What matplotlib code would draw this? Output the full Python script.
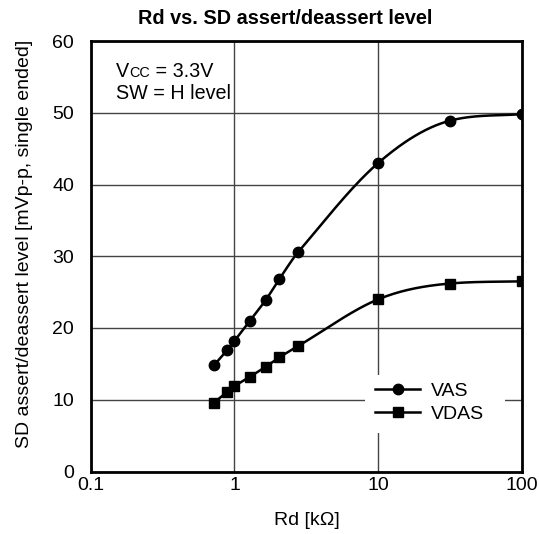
import numpy as np
import matplotlib
matplotlib.use("Agg")
import matplotlib.pyplot as plt
from matplotlib.lines import Line2D
from matplotlib.patches import Rectangle

# ---- data ----
rd_k = [0.72, 0.89, 1.0, 1.28, 1.65, 2.05, 2.78, 10.0, 31.6, 100.0]
vas = [14.8, 16.9, 18.2, 21.0, 23.9, 26.8, 30.6, 43.0, 48.9, 49.8]
vdas = [9.6, 11.1, 11.9, 13.2, 14.6, 15.9, 17.5, 24.0, 26.2, 26.5]
xticks = [0.1, 1, 10, 100]
xticklabels = ["0.1", "1", "10", "100"]
yticks = [0, 10, 20, 30, 40, 50, 60]

plt.rcParams['font.family'] = ['Liberation Sans', 'DejaVu Sans']


def smooth(x, y, n=400):
    """Cubic Hermite curve through the points in log-x space (for the line only)."""
    lx = np.log10(np.asarray(x, float))
    y = np.asarray(y, float)
    m = np.zeros_like(y)
    m[0] = (y[1] - y[0]) / (lx[1] - lx[0])
    m[-1] = (y[-1] - y[-2]) / (lx[-1] - lx[-2])
    for i in range(1, len(y) - 1):
        m[i] = (y[i + 1] - y[i - 1]) / (lx[i + 1] - lx[i - 1])
    d = np.diff(y) / np.diff(lx)
    for i in range(len(d)):
        if d[i] == 0:
            m[i] = m[i + 1] = 0
        else:
            a, b = m[i] / d[i], m[i + 1] / d[i]
            s = a * a + b * b
            if s > 9:
                t = 3 / np.sqrt(s)
                m[i], m[i + 1] = t * a * d[i], t * b * d[i]
    xs, ys = [], []
    for i in range(len(y) - 1):
        h = lx[i + 1] - lx[i]
        t = np.linspace(0, 1, n // len(y) + 2)
        h00 = 2 * t**3 - 3 * t**2 + 1
        h10 = t**3 - 2 * t**2 + t
        h01 = -2 * t**3 + 3 * t**2
        h11 = t**3 - t**2
        ys.append(h00 * y[i] + h10 * h * m[i] + h01 * y[i + 1] + h11 * h * m[i + 1])
        xs.append(lx[i] + t * h)
    return 10 ** np.concatenate(xs), np.concatenate(ys)


W, H = 539, 534
fig = plt.figure(figsize=(W / 100, H / 100), dpi=100)
L, R, T, B = 90.7, 522.0, 41.0, 471.5
ax = fig.add_axes([L / W, 1 - B / H, (R - L) / W, (B - T) / H])

ax.set_xscale('log')
ax.set_xlim(0.1, 100)
ax.set_ylim(0, 60)
ax.set_xticks(xticks)
ax.set_xticklabels(xticklabels)
ax.set_yticks(yticks)
ax.minorticks_off()
ax.tick_params(length=0, labelsize=14, colors='black')
ax.tick_params(axis='x', pad=4)
ax.tick_params(axis='y', pad=12)

ax.grid(True, which='major', color='#444444', linewidth=1.0)
ax.set_axisbelow(True)
for s in ax.spines.values():
    s.set_linewidth(2.0)
    s.set_color('black')
    s.set_zorder(5)

sx, sy = smooth(rd_k, vas)
ax.plot(sx, sy, color='black', lw=1.8, zorder=3)
ax.plot(rd_k, vas, 'o', color='black', ms=7.5, zorder=4)
sx, sy = smooth(rd_k, vdas)
ax.plot(sx, sy, color='black', lw=1.8, zorder=3)
ax.plot(rd_k, vdas, 's', color='black', ms=7.5, zorder=4)

# white legend background (covers the grid lines)
bx0, bx1, by0, by1 = 365, 505, 375, 433
ax.add_patch(Rectangle(((bx0 - L) / (R - L), (B - by1) / (B - T)),
                       (bx1 - bx0) / (R - L), (by1 - by0) / (B - T),
                       transform=ax.transAxes, facecolor='white',
                       edgecolor='none', zorder=2.5))

handles = [Line2D([], [], color='black', lw=1.8, marker='o', ms=7.5),
           Line2D([], [], color='black', lw=1.8, marker='s', ms=7.5)]
cx = (429.5 - L) / (R - L)
cy = (B - 402.5) / (B - T)
leg = ax.legend(handles, ['VAS', 'VDAS'], loc='center',
                bbox_to_anchor=(cx, cy), frameon=False, fontsize=14,
                handlelength=2.3, handletextpad=0.55, labelspacing=0.3,
                borderpad=0.5)
leg.set_zorder(6)

fig.text(285 / W, 1 - 24 / H, 'Rd vs. SD assert/deassert level', fontsize=14.3,
         fontweight='bold', ha='center', va='baseline')
fig.text(306.5 / W, 1 - 525 / H, 'Rd [k\u03a9]', fontsize=14, ha='center', va='baseline')
fig.text(25 / W, 1 - 243.5 / H, 'SD assert/deassert level [mVp-p, single ended]',
         fontsize=14, rotation=90, ha='center', va='center')

# Vcc annotation with small-cap CC
fig.canvas.draw()
r = fig.canvas.get_renderer()
x0 = 116 / W
ybase = 1 - 77.3 / H
t1 = fig.text(x0, ybase, 'V', fontsize=14.2, va='baseline', ha='left')
bb = t1.get_window_extent(renderer=r)
t2 = fig.text(bb.x1 / W + 0.5 / W, ybase, 'CC', fontsize=10.4, va='baseline', ha='left')
bb2 = t2.get_window_extent(renderer=r)
fig.text(bb2.x1 / W, ybase, ' = 3.3V', fontsize=14.2, va='baseline', ha='left')
fig.text(x0, 1 - 99.3 / H, 'SW = H level', fontsize=14.2, va='baseline', ha='left')

fig.savefig('out.png', dpi=100)
